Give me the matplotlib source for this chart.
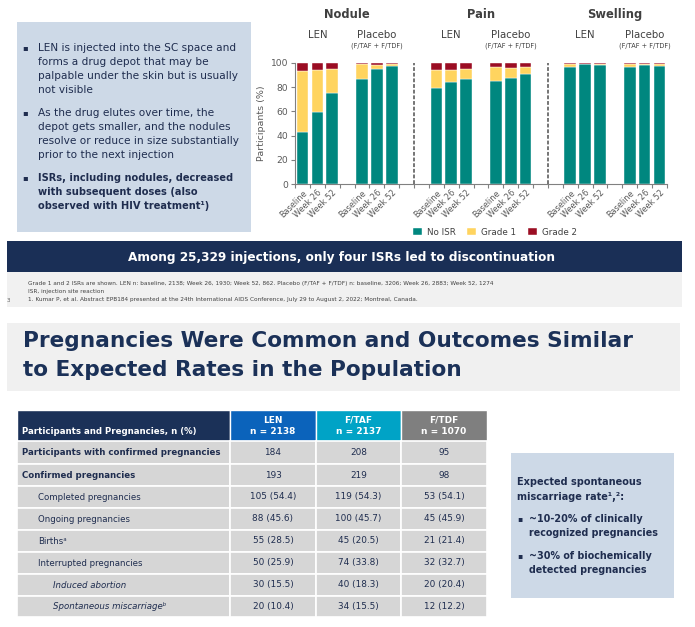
import matplotlib
matplotlib.use("Agg")
import matplotlib.pyplot as plt
from matplotlib.patches import Rectangle

plt.rcParams['font.family'] = ['DejaVu Sans']

# ---- chart data (ISR by visit) ----
categories = ["Nodule", "Pain", "Swelling"]
arms = ["LEN", "Placebo"]
timepoints = ["Baseline", "Week 26", "Week 52"]
# order: Nodule LEN (B, W26, W52), Nodule Placebo, Pain LEN, Pain Placebo, Swelling LEN, Swelling Placebo
no_isr = [43, 59.5, 75, 86.5, 95, 97.5, 79.5, 84, 86.5, 85, 88, 90.5, 97, 99, 98, 96.8, 98, 97.8]
grade1 = [50, 35, 20.3, 12.5, 3.5, 1.8, 14.5, 10, 8.5, 11.5, 8, 6.5, 2, 0.3, 1, 2.4, 1.2, 1.4]
grade2 = [7, 5.5, 4.7, 1, 1.5, 0.7, 6, 6, 5, 3.5, 4, 3, 1, 0.7, 1, 0.8, 0.8, 0.8]

# ---- table data ----
col_heads = ["LEN\nn = 2138", "F/TAF\nn = 2137", "F/TDF\nn = 1070"]
row_labels = ["Participants with confirmed pregnancies", "Confirmed pregnancies",
              "Completed pregnancies", "Ongoing pregnancies", "Births\u1d43",
              "Interrupted pregnancies", "Induced abortion", "Spontaneous miscarriage\u1d47"]
row_levels = [0, 0, 1, 1, 1, 1, 2, 2]
len_vals = ["184", "193", "105 (54.4)", "88 (45.6)", "55 (28.5)", "50 (25.9)", "30 (15.5)", "20 (10.4)"]
taf_vals = ["208", "219", "119 (54.3)", "100 (45.7)", "45 (20.5)", "74 (33.8)", "40 (18.3)", "34 (15.5)"]
tdf_vals = ["95", "98", "53 (54.1)", "45 (45.9)", "21 (21.4)", "32 (32.7)", "20 (20.4)", "12 (12.2)"]

NAVY = "#1b3158"
TXT = "#1f2d4f"
BOX = "#cdd9e7"
C_NO, C_G1, C_G2 = "#00877f", "#ffd45f", "#9b0d23"

W, H = 695, 627
fig = plt.figure(figsize=(W / 100, H / 100), dpi=100)
bg = fig.add_axes([0, 0, 1, 1])
bg.set_xlim(0, W)
bg.set_ylim(H, 0)
bg.axis('off')

# ---- left info box ----
bg.add_patch(Rectangle((17, 22), 234, 210, color=BOX, lw=0))
bullets = [
    (["LEN is injected into the SC space and", "forms a drug depot that may be",
      "palpable under the skin but is usually", "not visible"], 48, 'normal', 7.6),
    (["As the drug elutes over time, the", "depot gets smaller, and the nodules",
      "resolve or reduce in size substantially", "prior to the next injection"], 113, 'normal', 7.6),
    (["ISRs, including nodules, decreased", "with subsequent doses (also",
      "observed with HIV treatment\u00b9)"], 178, 'bold', 7.1),
]
for lines, y0, wt, fs in bullets:
    bg.text(25, y0, "\u25aa", fontsize=6, color=TXT, ha='center', va='center')
    for k, ln in enumerate(lines):
        bg.text(38, y0 + k * 14, ln, fontsize=fs, color=TXT, va='center', fontweight=wt)

# ---- stacked bar chart ----
ax = fig.add_axes([295 / W, 1 - 184 / H, 372 / W, 121 / H])
pos = []
labels = []
for c in range(len(categories)):
    for a in range(len(arms)):
        for t in range(len(timepoints)):
            pos.append(c * 9 + a * 4 + t + 0.5)
            labels.append(timepoints[t])
bottom2 = [n + g for n, g in zip(no_isr, grade1)]
ax.bar(pos, no_isr, width=0.78, color=C_NO, edgecolor='white', lw=0.3, label="No ISR")
ax.bar(pos, grade1, bottom=no_isr, width=0.78, color=C_G1, edgecolor='white', lw=0.3, label="Grade 1")
ax.bar(pos, grade2, bottom=bottom2, width=0.78, color=C_G2, edgecolor='white', lw=0.3, label="Grade 2")
ax.set_xlim(0, 25)
ax.set_ylim(0, 100)
ax.set_yticks(range(0, 101, 20))
ax.set_xticks(range(0, 26))
ax.set_xticklabels([])
ax.set_xticks(pos, minor=True)
ax.set_xticklabels(labels, minor=True, rotation=45, ha='right', rotation_mode='anchor',
                   fontsize=5.9, color="#595959")
ax.tick_params(axis='x', which='minor', length=0, pad=3)
ax.tick_params(axis='x', which='major', length=3, color="#808080")
ax.tick_params(axis='y', labelsize=6.6, labelcolor="#595959", length=3, color="#808080", pad=2)
for s in ['top', 'right']:
    ax.spines[s].set_visible(False)
for s in ['left', 'bottom']:
    ax.spines[s].set_color("#808080")
ax.set_ylabel("Participants (%)", fontsize=6.8, color="#595959", labelpad=3)
for c in range(1, len(categories)):
    ax.axvline(c * 9 - 1, ymin=0, ymax=1, color="#505050", ls=(0, (2.5, 1.2)), lw=1.1)
tr = ax.get_xaxis_transform()
for c, cat in enumerate(categories):
    ax.text(c * 9 + 3.5, 1.40, cat, transform=tr, ha='center', va='center',
            fontsize=8.3, fontweight='bold', color="#404040")
    for a, arm in enumerate(arms):
        xc = c * 9 + a * 4 + 1.5
        ax.text(xc, 1.23, arm, transform=tr, ha='center', va='center', fontsize=7.3, color="#404040")
        if arm == "Placebo":
            ax.text(xc, 1.145, "(F/TAF + F/TDF)", transform=tr, ha='center', va='center',
                    fontsize=4.8, color="#404040")
fig.legend(loc='center', bbox_to_anchor=(495 / W, 1 - 232 / H), ncol=3, frameon=False,
           fontsize=6.3, handlelength=1.0, handleheight=1.0, columnspacing=1.3,
           handletextpad=0.6, labelcolor="#404040")

# ---- banner and footnotes ----
bg.add_patch(Rectangle((7, 241), 675, 31, color="#1a2f56", lw=0))
bg.text(342, 257, "Among 25,329 injections, only four ISRs led to discontinuation",
        color='white', fontsize=8.7, ha='center', va='center', fontweight='bold')
bg.add_patch(Rectangle((7, 272), 675, 35, color="#f1f1f1", lw=0))
foot = ["Grade 1 and 2 ISRs are shown. LEN n: baseline, 2138; Week 26, 1930; Week 52, 862. "
        "Placebo (F/TAF + F/TDF) n: baseline, 3206; Week 26, 2883; Week 52, 1274",
        "ISR, injection site reaction",
        "1. Kumar P, et al. Abstract EPB184 presented at the 24th International AIDS Conference, "
        "July 29 to August 2, 2022; Montreal, Canada."]
for k, ln in enumerate(foot):
    bg.text(28, 283 + k * 8.5, ln, fontsize=4.15, color="#404040", va='center')
bg.text(7, 300, "3", fontsize=4.0, color="#606060", va='center')

# ---- slide title ----
bg.add_patch(Rectangle((7, 323), 673, 68, color="#f0f0f0", lw=0))
bg.text(23, 341, "Pregnancies Were Common and Outcomes Similar", fontsize=15.6, color=NAVY,
        va='center', fontweight='bold')
bg.text(23, 370, "to Expected Rates in the Population", fontsize=15.6, color=NAVY,
        va='center', fontweight='bold')

# ---- table ----
col_x = [17, 230, 316, 401, 487]
head_col = [NAVY, "#0b63bb", "#00a3c6", "#7f7f7f"]
row_y = [410, 441, 464, 486, 508, 530, 552, 574, 596, 617]
fs_t = 6.2
for j in range(4):
    bg.add_patch(Rectangle((col_x[j], row_y[0]), col_x[j + 1] - col_x[j], row_y[1] - row_y[0],
                           facecolor=head_col[j], edgecolor='white', lw=1))
bg.text(22, 432, "Participants and Pregnancies, n (%)", color='white', fontsize=fs_t,
        fontweight='bold', va='center')
for j, hd in enumerate(col_heads):
    xc = (col_x[j + 1] + col_x[j + 2]) / 2
    bg.text(xc, 426, hd, color='white', fontsize=fs_t + 0.3, fontweight='bold', ha='center',
            va='center', linespacing=1.3)
indent = [22, 38, 53]
cols = [len_vals, taf_vals, tdf_vals]
for i, lab in enumerate(row_labels):
    y0, y1 = row_y[i + 1], row_y[i + 2]
    for j in range(4):
        bg.add_patch(Rectangle((col_x[j], y0), col_x[j + 1] - col_x[j], y1 - y0,
                               facecolor="#d6d6d6", edgecolor='white', lw=1.2))
    lv = row_levels[i]
    bg.text(indent[lv], (y0 + y1) / 2, lab, fontsize=fs_t, color=TXT, va='center',
            fontweight='bold' if i < 2 else 'normal', fontstyle='italic' if lv == 2 else 'normal')
    for j in range(3):
        xc = (col_x[j + 1] + col_x[j + 2]) / 2
        bg.text(xc, (y0 + y1) / 2, cols[j][i], fontsize=fs_t + 0.2, color=TXT, ha='center', va='center')

# ---- right info box ----
bg.add_patch(Rectangle((511, 453), 163, 145, color=BOX, lw=0))
bg.text(517, 482, "Expected spontaneous", fontsize=7.0, color=TXT, va='center', fontweight='bold')
bg.text(517, 497, "miscarriage rate\u00b9,\u00b2:", fontsize=7.0, color=TXT,
        va='center', fontweight='bold')
rb = [(["~10-20% of clinically", "recognized pregnancies"], 519),
      (["~30% of biochemically", "detected pregnancies"], 556)]
for lines, y0 in rb:
    bg.text(520, y0, "\u25aa", fontsize=5.5, color=TXT, ha='center', va='center')
    for k, ln in enumerate(lines):
        bg.text(529, y0 + k * 14, ln, fontsize=6.9, color=TXT, va='center', fontweight='bold')

fig.savefig("out.png", dpi=100)
